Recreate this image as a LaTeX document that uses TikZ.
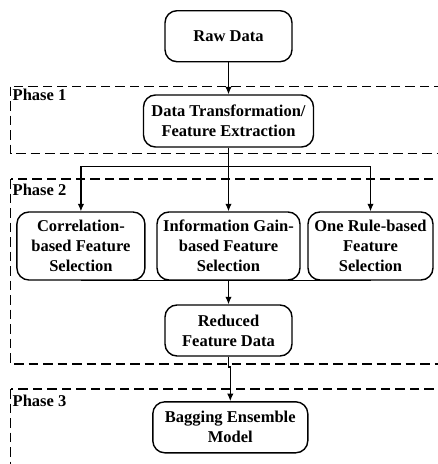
\documentclass[tikz,border=0pt]{standalone}
\usepackage{fontspec}
\setmainfont{Liberation Serif}
\usetikzlibrary{arrows.meta}

\begin{document}
\begin{tikzpicture}[
    x=1pt, y=-1pt,
    stage/.style={rectangle, draw, rounded corners=12pt, line width=1.4pt, align=center, inner sep=0pt, font=\bfseries\fontsize{16.5}{20}\selectfont},
    phase/.style={draw, line width=1.2pt, dash pattern=on 9.5pt off 5pt},
    phaselabel/.style={anchor=base west, inner sep=0pt, font=\bfseries\fontsize{16.5}{20}\selectfont},
    flow/.style={line width=1.2pt, -{Latex[length=7.5pt,width=6.5pt]}}
  ]
    \useasboundingbox (0,0) rectangle (438,464);
    \clip (0,0) rectangle (438,464);

    % Phases
    \draw[phase] (10.5,86.5) rectangle (450,153.5);
    \draw[phase] (10.5,179) rectangle (450,364);
    \draw[phase] (10.5,389) rectangle (450,480);
    \node[phaselabel] (ph1) at (12.5,100.7) {Phase 1};
    \node[phaselabel] (ph2) at (12.5,195.7) {Phase 2};
    \node[phaselabel] (ph3) at (12.5,406) {Phase 3};

    % Stages
    \node[stage, minimum width=127pt, minimum height=51pt] (raw) at (228.5,36.2) {Raw Data};
    \node[stage, minimum width=170pt, minimum height=52pt] (dtfe) at (228.5,121) {Data Transformation/\\Feature Extraction};
    \node[stage, minimum width=128pt, minimum height=68pt] (cfs) at (80.9,246) {Correlation-\\based Feature\\Selection};
    \node[stage, minimum width=143pt, minimum height=68pt] (igfs) at (228.5,246) {Information Gain-\\based Feature\\Selection};
    \node[stage, minimum width=125pt, minimum height=68pt] (orfs) at (370.5,246) {One Rule-based\\Feature\\Selection};
    \node[stage, minimum width=127pt, minimum height=51pt] (red) at (228.5,330.5) {Reduced\\Feature Data};
    \node[stage, minimum width=155pt, minimum height=51pt] (bag) at (230.3,427.3) {Bagging Ensemble\\Model};

    % Flow
    \coordinate (fork) at (228.5,166.7);
    \coordinate (jog) at (228.5,367);
    \draw[flow] (raw) -- (dtfe);
    \draw[line width=1.2pt] (dtfe) -- (fork);
    \draw[flow] (fork) -| (cfs.north);
    \draw[flow] (fork) -- (igfs);
    \draw[flow] (fork) -| (orfs.north);
    \draw[line width=1.4pt] (cfs.south) -- (orfs.south);
    \draw[flow] (igfs) -- (red);
    \draw[flow] (red.south) -- (jog) -| (bag.north);
  \end{tikzpicture}
\end{document}
